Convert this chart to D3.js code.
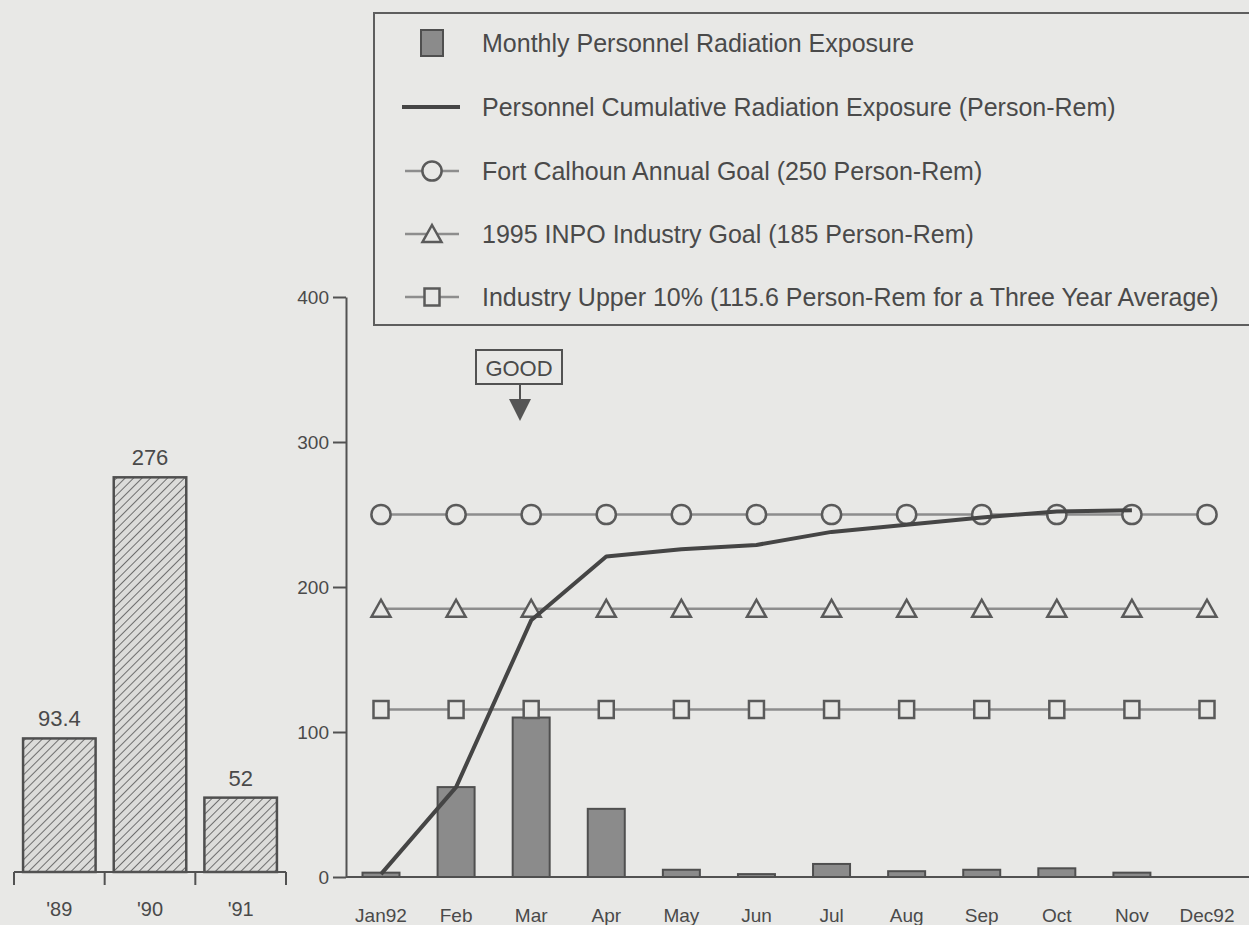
<!DOCTYPE html>
<html>
<head>
<meta charset="utf-8">
<script src="https://d3js.org/d3.v7.min.js"></script>
<style>
  html, body { margin: 0; padding: 0; background: #e8e8e6; }
  svg { display: block; }
  text { font-family: "Liberation Sans", Arial, Helvetica, sans-serif; fill: #4a4a4a; }
</style>
</head>
<body>
<svg id="chart" width="1249" height="925"></svg>
<script>
// ---- Data ----
const months = ["Jan92", "Feb", "Mar", "Apr", "May", "Jun", "Jul", "Aug", "Sep", "Oct", "Nov", "Dec92"];
const monthlyExposure = [3, 62, 110, 47, 5, 2, 9, 4, 5, 6, 3, 0];
const cumulativeExposure = [2, 62, 177, 221, 226, 229, 238, 243, 248, 252, 253];
const annualGoal = 250;
const inpoGoal = 185;
const industryUpper = 115.6;
const priorYears = ["'89", "'90", "'91"];
const priorYearTotals = [93.4, 276, 52];
const priorYearLabels = ["93.4", "276", "52"];
const yTicks = [0, 100, 200, 300, 400];
const legendLabels = [
  "Monthly Personnel Radiation Exposure",
  "Personnel Cumulative Radiation Exposure (Person-Rem)",
  "Fort Calhoun Annual Goal (250 Person-Rem)",
  "1995 INPO Industry Goal (185 Person-Rem)",
  "Industry Upper 10% (115.6 Person-Rem for a Three Year Average)"
];

const BG = "#e8e8e6";
const INK = "#525252";
const GOAL_LINE = "#8d8d8d";

const svg = d3.select("#chart");

// hatch pattern for the prior-year bars
const defs = svg.append("defs");
const pat = defs.append("pattern")
  .attr("id", "hatch").attr("patternUnits", "userSpaceOnUse")
  .attr("width", 6).attr("height", 6)
  .attr("patternTransform", "rotate(45)");
pat.append("rect").attr("width", 6).attr("height", 6).attr("fill", "#dcdcda");
pat.append("line").attr("x1", 0).attr("y1", 0).attr("x2", 0).attr("y2", 6)
  .attr("stroke", "#6e6e6e").attr("stroke-width", 2);

// ---- Main chart scales ----
const x = d3.scalePoint().domain(months).range([381, 1207]);
const y = d3.scaleLinear().domain([0, 400]).range([877, 297]);
const barW = 37;

// y axis
const yAxis = svg.append("g").attr("transform", "translate(346,0)")
  .call(d3.axisLeft(y).tickValues(yTicks).tickSize(13).tickSizeOuter(0).tickPadding(4));
yAxis.select(".domain").attr("stroke", INK).attr("stroke-width", 2);
yAxis.selectAll(".tick line").attr("stroke", INK).attr("stroke-width", 2);
yAxis.selectAll(".tick text").attr("font-size", 19).attr("fill", "#555")
  .style("font-family", "'Liberation Sans', Arial, sans-serif");

// x axis baseline and month labels
svg.append("line").attr("x1", 346).attr("x2", 1249).attr("y1", y(0)).attr("y2", y(0))
  .attr("stroke", INK).attr("stroke-width", 2);
svg.append("g").selectAll("text").data(months).join("text")
  .attr("x", d => x(d)).attr("y", 922).attr("text-anchor", "middle")
  .attr("font-size", 19).text(d => d);

// monthly bars
svg.append("g").selectAll("rect").data(monthlyExposure).join("rect")
  .attr("x", (d, i) => x(months[i]) - barW / 2)
  .attr("y", d => y(d))
  .attr("width", barW)
  .attr("height", d => y(0) - y(d))
  .attr("fill", "#8b8b8b").attr("stroke", "#4f4f4f").attr("stroke-width", 2);

// goal reference lines with markers
function goalSeries(value, shape) {
  const g = svg.append("g");
  g.append("line").attr("x1", x(months[0])).attr("x2", x(months[months.length - 1]))
    .attr("y1", y(value)).attr("y2", y(value))
    .attr("stroke", GOAL_LINE).attr("stroke-width", 2.5);
  g.selectAll("path").data(months).join("path")
    .attr("transform", d => `translate(${x(d)},${y(value)})`)
    .attr("d", shape)
    .attr("fill", BG).attr("stroke", "#5a5a5a").attr("stroke-width", 2.5);
}
const circleShape = d3.symbol(d3.symbolCircle, 290)();
const triShape = "M0,-9L9.5,8L-9.5,8Z";
const squareShape = "M-7.5,-8.5H7.5V8.5H-7.5Z";
goalSeries(annualGoal, circleShape);
goalSeries(inpoGoal, triShape);
goalSeries(industryUpper, squareShape);

// cumulative exposure line
svg.append("path").datum(cumulativeExposure)
  .attr("d", d3.line().x((d, i) => x(months[i])).y(d => y(d)))
  .attr("fill", "none").attr("stroke", "#454545").attr("stroke-width", 4)
  .attr("stroke-linejoin", "round");

// GOOD direction marker
const good = svg.append("g");
good.append("rect").attr("x", 476).attr("y", 350).attr("width", 86).attr("height", 34)
  .attr("fill", "none").attr("stroke", INK).attr("stroke-width", 2);
good.append("text").attr("x", 519).attr("y", 376).attr("text-anchor", "middle")
  .attr("font-size", 22).text("GOOD");
good.append("line").attr("x1", 520).attr("x2", 520).attr("y1", 384).attr("y2", 402)
  .attr("stroke", INK).attr("stroke-width", 2);
good.append("path").attr("d", "M509,399L531,399L520,421Z").attr("fill", "#555");

// ---- Legend ----
const legend = svg.append("g");
legend.append("rect").attr("x", 374).attr("y", 13).attr("width", 920).attr("height", 312)
  .attr("fill", "none").attr("stroke", "#5e5e5e").attr("stroke-width", 2);
const rowY = [43, 107, 171, 234, 297];
const symX = 432;
legend.selectAll("text").data(legendLabels).join("text")
  .attr("x", 482).attr("y", (d, i) => rowY[i] + 9)
  .attr("font-size", 25).text(d => d);
legend.append("rect").attr("x", symX - 11).attr("y", rowY[0] - 13).attr("width", 22).attr("height", 26)
  .attr("fill", "#8b8b8b").attr("stroke", "#4f4f4f").attr("stroke-width", 2);
legend.append("line").attr("x1", symX - 30).attr("x2", symX + 28).attr("y1", rowY[1]).attr("y2", rowY[1])
  .attr("stroke", "#454545").attr("stroke-width", 4);
[[circleShape, rowY[2]], [triShape, rowY[3]], [squareShape, rowY[4]]].forEach(([shape, ry]) => {
  legend.append("line").attr("x1", symX - 27).attr("x2", symX + 27).attr("y1", ry).attr("y2", ry)
    .attr("stroke", GOAL_LINE).attr("stroke-width", 2.5);
  legend.append("path").attr("transform", `translate(${symX},${ry})`).attr("d", shape)
    .attr("fill", BG).attr("stroke", "#5a5a5a").attr("stroke-width", 2.5);
});

// ---- Prior-year totals inset ----
const xb = d3.scaleBand().domain(priorYears).range([14, 286]).paddingInner(0.2).paddingOuter(0.1);
const yb = d3.scaleLinear().domain([0, 400]).range([872, 300]);
const inset = svg.append("g");
inset.selectAll("rect").data(priorYearTotals).join("rect")
  .attr("x", (d, i) => xb(priorYears[i]))
  .attr("y", d => yb(d))
  .attr("width", xb.bandwidth())
  .attr("height", d => yb(0) - yb(d))
  .attr("fill", "url(#hatch)").attr("stroke", "#4f4f4f").attr("stroke-width", 2.5);
inset.selectAll("text.val").data(priorYearLabels).join("text").attr("class", "val")
  .attr("x", (d, i) => xb(priorYears[i]) + xb.bandwidth() / 2)
  .attr("y", (d, i) => yb(priorYearTotals[i]) - 12)
  .attr("text-anchor", "middle").attr("font-size", 22).text(d => d);
const insetAxis = inset.append("g").attr("transform", "translate(0,872)");
insetAxis.append("line").attr("x1", 14).attr("x2", 286).attr("stroke", INK).attr("stroke-width", 2);
const step = xb.step();
const edges = [14, 14 + xb.paddingOuter() * step + step - xb.paddingInner() * step / 2,
  286 - (xb.paddingOuter() * step + step - xb.paddingInner() * step / 2), 286];
insetAxis.selectAll("line.tk").data(edges).join("line").attr("class", "tk")
  .attr("x1", d => d).attr("x2", d => d).attr("y1", 0).attr("y2", 13)
  .attr("stroke", INK).attr("stroke-width", 2);
insetAxis.selectAll("text").data(priorYears).join("text")
  .attr("x", d => xb(d) + xb.bandwidth() / 2).attr("y", 44)
  .attr("text-anchor", "middle").attr("font-size", 20).text(d => d);
</script>
</body>
</html>
